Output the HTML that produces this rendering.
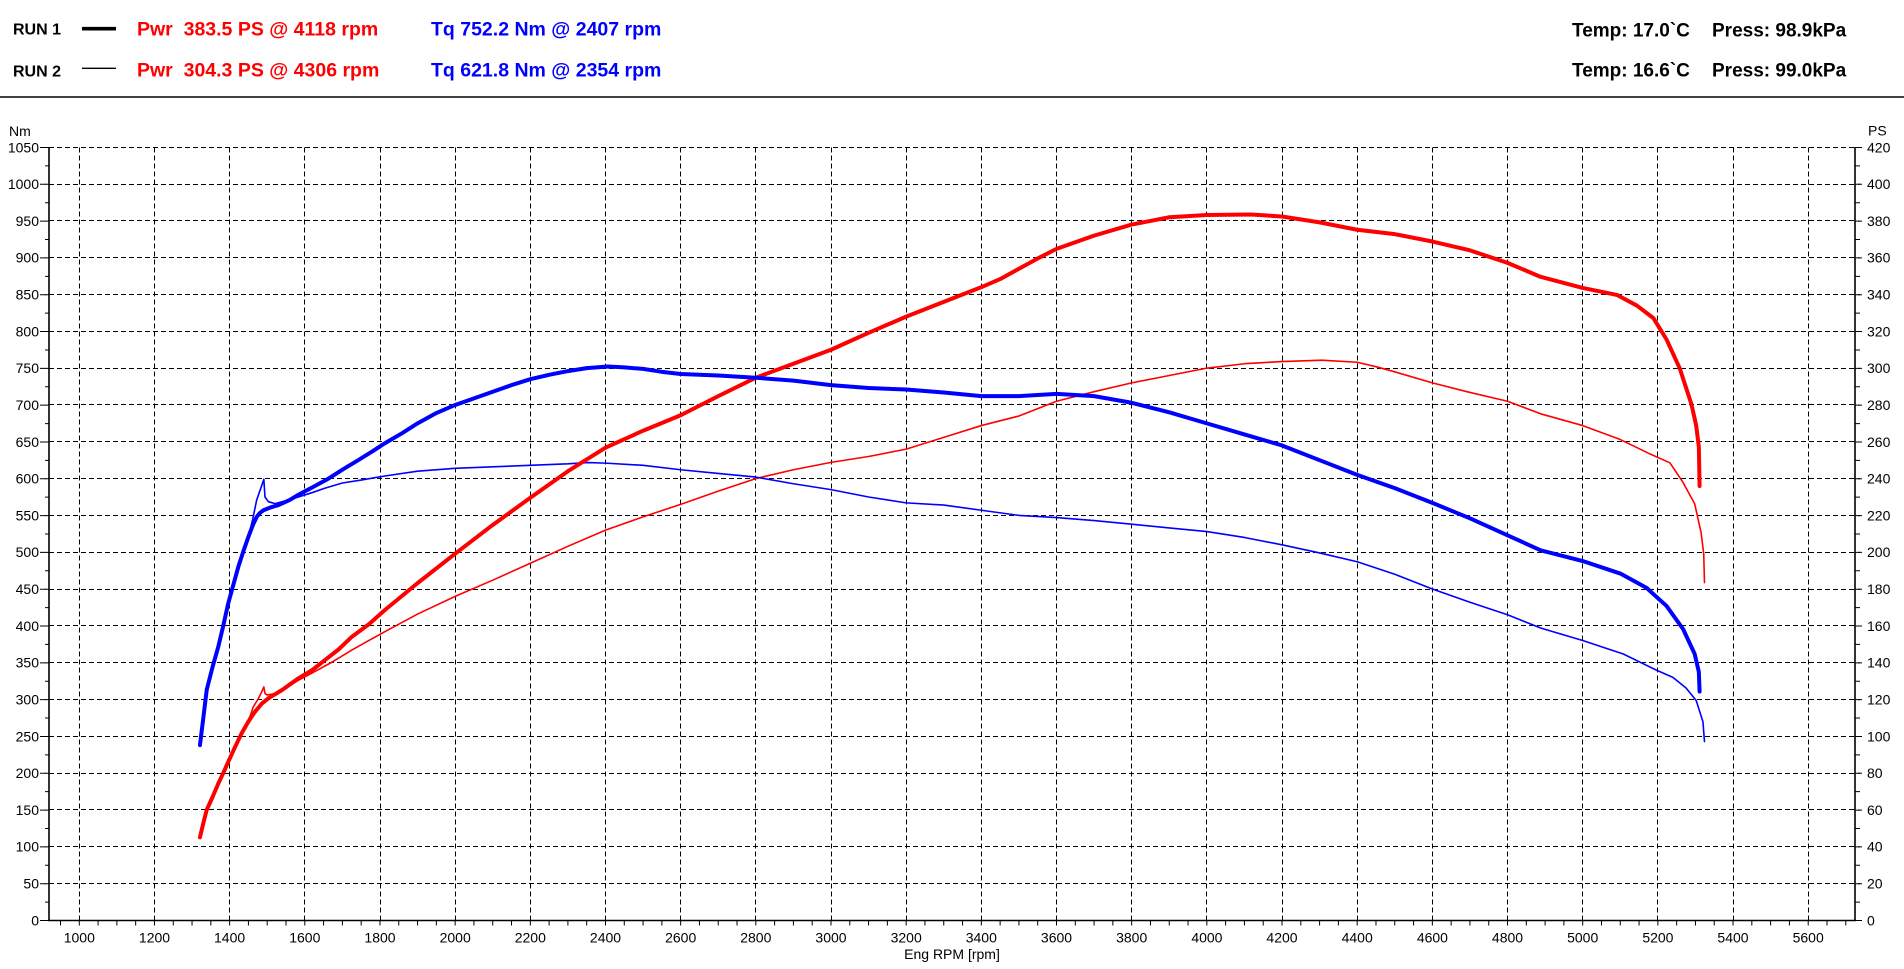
<!DOCTYPE html>
<html>
<head>
<meta charset="utf-8">
<style>
html,body{margin:0;padding:0;background:#fff;}
svg{display:block;}
text{font-family:"Liberation Sans",Arial,sans-serif;}
.hd{font-weight:bold;white-space:pre;}
.ax{font-size:14px;fill:#000;}
</style>
</head>
<body>
<svg width="1904" height="969" viewBox="0 0 1904 969" xmlns="http://www.w3.org/2000/svg">
<rect width="1904" height="969" fill="#fff"/>

<!-- Header -->
<text x="13" y="34.5" class="hd" font-size="16" fill="#000">RUN 1</text>
<line x1="82" y1="28.7" x2="116" y2="28.7" stroke="#000" stroke-width="3.7"/>
<text x="137" y="35.7" class="hd" font-size="19.5" fill="#ff0000" xml:space="preserve">Pwr  383.5 PS @ 4118 rpm</text>
<text x="431" y="35.7" class="hd" font-size="19.5" fill="#0000ff" xml:space="preserve">Tq 752.2 Nm @ 2407 rpm</text>
<text x="1572" y="36.7" class="hd" font-size="19" fill="#000">Temp: 17.0`C</text>
<text x="1712" y="36.7" class="hd" font-size="19" fill="#000">Press: 98.9kPa</text>

<text x="13" y="76.5" class="hd" font-size="16" fill="#000">RUN 2</text>
<line x1="82" y1="68.3" x2="116" y2="68.3" stroke="#000" stroke-width="1.4"/>
<text x="137" y="76.7" class="hd" font-size="19.5" fill="#ff0000" xml:space="preserve">Pwr  304.3 PS @ 4306 rpm</text>
<text x="431" y="76.7" class="hd" font-size="19.5" fill="#0000ff" xml:space="preserve">Tq 621.8 Nm @ 2354 rpm</text>
<text x="1572" y="76.7" class="hd" font-size="19" fill="#000">Temp: 16.6`C</text>
<text x="1712" y="76.7" class="hd" font-size="19" fill="#000">Press: 99.0kPa</text>

<line x1="0" y1="97" x2="1904" y2="97" stroke="#000" stroke-width="1.6"/>

<!-- Axis titles -->
<text x="9" y="136" class="ax" font-size="14">Nm</text>
<text x="1868" y="135.5" class="ax" font-size="14">PS</text>
<text x="952" y="959" class="ax" font-size="14" text-anchor="middle">Eng RPM [rpm]</text>

<!-- Horizontal gridlines -->
<g stroke="#000" stroke-width="1" stroke-dasharray="5 3" fill="none">
<line x1="49" y1="883.5" x2="1855" y2="883.5"/>
<line x1="49" y1="846.5" x2="1855" y2="846.5"/>
<line x1="49" y1="809.5" x2="1855" y2="809.5"/>
<line x1="49" y1="773.5" x2="1855" y2="773.5"/>
<line x1="49" y1="736.5" x2="1855" y2="736.5"/>
<line x1="49" y1="699.5" x2="1855" y2="699.5"/>
<line x1="49" y1="662.5" x2="1855" y2="662.5"/>
<line x1="49" y1="625.5" x2="1855" y2="625.5"/>
<line x1="49" y1="589.5" x2="1855" y2="589.5"/>
<line x1="49" y1="552.5" x2="1855" y2="552.5"/>
<line x1="49" y1="515.5" x2="1855" y2="515.5"/>
<line x1="49" y1="478.5" x2="1855" y2="478.5"/>
<line x1="49" y1="441.5" x2="1855" y2="441.5"/>
<line x1="49" y1="404.5" x2="1855" y2="404.5"/>
<line x1="49" y1="368.5" x2="1855" y2="368.5"/>
<line x1="49" y1="331.5" x2="1855" y2="331.5"/>
<line x1="49" y1="294.5" x2="1855" y2="294.5"/>
<line x1="49" y1="257.5" x2="1855" y2="257.5"/>
<line x1="49" y1="220.5" x2="1855" y2="220.5"/>
<line x1="49" y1="184.5" x2="1855" y2="184.5"/>
<line x1="49" y1="147.5" x2="1855" y2="147.5"/>
</g>

<!-- Vertical gridlines -->
<g stroke="#000" stroke-width="1" stroke-dasharray="5 3" fill="none">
<line x1="79.5" y1="147.5" x2="79.5" y2="920"/>
<line x1="154.5" y1="147.5" x2="154.5" y2="920"/>
<line x1="229.5" y1="147.5" x2="229.5" y2="920"/>
<line x1="304.5" y1="147.5" x2="304.5" y2="920"/>
<line x1="380.5" y1="147.5" x2="380.5" y2="920"/>
<line x1="455.5" y1="147.5" x2="455.5" y2="920"/>
<line x1="530.5" y1="147.5" x2="530.5" y2="920"/>
<line x1="605.5" y1="147.5" x2="605.5" y2="920"/>
<line x1="680.5" y1="147.5" x2="680.5" y2="920"/>
<line x1="755.5" y1="147.5" x2="755.5" y2="920"/>
<line x1="831.5" y1="147.5" x2="831.5" y2="920"/>
<line x1="906.5" y1="147.5" x2="906.5" y2="920"/>
<line x1="981.5" y1="147.5" x2="981.5" y2="920"/>
<line x1="1056.5" y1="147.5" x2="1056.5" y2="920"/>
<line x1="1131.5" y1="147.5" x2="1131.5" y2="920"/>
<line x1="1206.5" y1="147.5" x2="1206.5" y2="920"/>
<line x1="1282.5" y1="147.5" x2="1282.5" y2="920"/>
<line x1="1357.5" y1="147.5" x2="1357.5" y2="920"/>
<line x1="1432.5" y1="147.5" x2="1432.5" y2="920"/>
<line x1="1507.5" y1="147.5" x2="1507.5" y2="920"/>
<line x1="1582.5" y1="147.5" x2="1582.5" y2="920"/>
<line x1="1657.5" y1="147.5" x2="1657.5" y2="920"/>
<line x1="1733.5" y1="147.5" x2="1733.5" y2="920"/>
<line x1="1808.5" y1="147.5" x2="1808.5" y2="920"/>
</g>

<!-- Axes -->
<g stroke="#000" fill="none">
<line x1="49" y1="147" x2="49" y2="921" stroke-width="1.6"/>
<line x1="1855" y1="147" x2="1855" y2="921" stroke-width="1.6"/>
<line x1="48" y1="920.5" x2="1856" y2="920.5" stroke-width="1.6"/>
<!-- left ticks -->
<line x1="47" y1="921" x2="47" y2="146" stroke-width="4" stroke-dasharray="1 17.405"/>
<line x1="43" y1="921" x2="43" y2="146" stroke-width="6" stroke-dasharray="1 35.81"/>
<!-- right ticks -->
<line x1="1857.5" y1="921" x2="1857.5" y2="146" stroke-width="5" stroke-dasharray="1 17.405"/>
<line x1="1860" y1="921" x2="1860" y2="146" stroke-width="4" stroke-dasharray="1 35.81"/>
<!-- bottom ticks -->
<line x1="60" y1="923" x2="1856" y2="923" stroke-width="5" stroke-dasharray="1 17.7925"/>
</g>

<!-- Left labels -->
<g class="ax" text-anchor="end">
<text x="39" y="925.3">0</text>
<text x="39" y="888.5">50</text>
<text x="39" y="851.7">100</text>
<text x="39" y="814.9">150</text>
<text x="39" y="778.1">200</text>
<text x="39" y="741.3">250</text>
<text x="39" y="704.4">300</text>
<text x="39" y="667.6">350</text>
<text x="39" y="630.8">400</text>
<text x="39" y="594.0">450</text>
<text x="39" y="557.2">500</text>
<text x="39" y="520.4">550</text>
<text x="39" y="483.6">600</text>
<text x="39" y="446.8">650</text>
<text x="39" y="410.0">700</text>
<text x="39" y="373.2">750</text>
<text x="39" y="336.3">800</text>
<text x="39" y="299.5">850</text>
<text x="39" y="262.7">900</text>
<text x="39" y="225.9">950</text>
<text x="39" y="189.1">1000</text>
<text x="39" y="152.3">1050</text>
</g>

<!-- Right labels -->
<g class="ax">
<text x="1867" y="925.3">0</text>
<text x="1867" y="888.5">20</text>
<text x="1867" y="851.7">40</text>
<text x="1867" y="814.9">60</text>
<text x="1867" y="778.1">80</text>
<text x="1867" y="741.3">100</text>
<text x="1867" y="704.4">120</text>
<text x="1867" y="667.6">140</text>
<text x="1867" y="630.8">160</text>
<text x="1867" y="594.0">180</text>
<text x="1867" y="557.2">200</text>
<text x="1867" y="520.4">220</text>
<text x="1867" y="483.6">240</text>
<text x="1867" y="446.8">260</text>
<text x="1867" y="410.0">280</text>
<text x="1867" y="373.2">300</text>
<text x="1867" y="336.3">320</text>
<text x="1867" y="299.5">340</text>
<text x="1867" y="262.7">360</text>
<text x="1867" y="225.9">380</text>
<text x="1867" y="189.1">400</text>
<text x="1867" y="152.3">420</text>
</g>

<!-- Bottom labels -->
<g class="ax" text-anchor="middle">
<text x="79.3" y="942.5">1000</text>
<text x="154.5" y="942.5">1200</text>
<text x="229.6" y="942.5">1400</text>
<text x="304.8" y="942.5">1600</text>
<text x="380.0" y="942.5">1800</text>
<text x="455.2" y="942.5">2000</text>
<text x="530.3" y="942.5">2200</text>
<text x="605.5" y="942.5">2400</text>
<text x="680.7" y="942.5">2600</text>
<text x="755.8" y="942.5">2800</text>
<text x="831.0" y="942.5">3000</text>
<text x="906.2" y="942.5">3200</text>
<text x="981.3" y="942.5">3400</text>
<text x="1056.5" y="942.5">3600</text>
<text x="1131.7" y="942.5">3800</text>
<text x="1206.9" y="942.5">4000</text>
<text x="1282.0" y="942.5">4200</text>
<text x="1357.2" y="942.5">4400</text>
<text x="1432.4" y="942.5">4600</text>
<text x="1507.5" y="942.5">4800</text>
<text x="1582.7" y="942.5">5000</text>
<text x="1657.9" y="942.5">5200</text>
<text x="1733.0" y="942.5">5400</text>
<text x="1808.2" y="942.5">5600</text>
</g>

<!-- Curves in data coords: x=rpm, y=Nm(-equivalent) -->
<g transform="matrix(0.37585 0 0 -0.7362 -296.55 920.3)" fill="none" stroke-linejoin="round" stroke-linecap="round">
<!-- Run2 power (thin red) -->
<polyline vector-effect="non-scaling-stroke" stroke="#ff0000" stroke-width="1.6" points="1321,112.7 1339,150 1370,186 1396,215 1432,254 1455,278 1463,290 1475,300 1485,310 1491,317 1494,308 1500,306 1521,308 1547,315 1583,326 1618,335.5 1670,350 1725,367 1770,380 1813,392 1900,416 2000,440 2100,462 2200,485 2300,508 2400,530 2500,548 2600,565 2700,583 2800,600 2900,612 3000,622 3100,630 3200,640 3300,656 3400,672 3500,685 3600,705 3700,718 3800,730 3900,740 4000,750 4100,756 4200,759 4306,760.75 4400,758 4450,752 4500,745 4600,730 4700,717 4800,705 4888,688 5000,672 5100,653 5179,633.5 5232,621.4 5267,594.7 5298,565.6 5315,526.7 5322,497.6 5324,458.8"/>
<!-- Run2 torque (thin blue) -->
<polyline vector-effect="non-scaling-stroke" stroke="#0000ff" stroke-width="1.6" points="1321,238 1339,313 1370,372 1396,430 1423,480 1450,521 1461,544 1472,571 1485,590 1491,599 1494,575 1503,568.6 1521,566 1550,570 1583,575 1620,581 1654,587 1700,594 1750,598 1813,603.5 1900,610 2000,614 2100,616 2200,618 2300,620 2354,621.8 2400,621 2500,618 2600,612 2700,607 2800,602 2900,593 3000,585 3100,575 3200,567 3300,564 3400,557 3500,550 3600,547 3700,543 3800,538 3900,533 4000,528 4100,520 4200,510 4300,499 4400,487 4500,470 4600,450 4700,432 4800,415 4888,397 5000,380 5108,361.7 5196,339.8 5240,330 5275,315.6 5302,298.6 5320,269.5 5324,242.8"/>
<!-- Run1 power (thick red) -->
<polyline vector-effect="non-scaling-stroke" stroke="#ff0000" stroke-width="4" points="1321,112.7 1330,132 1339,150 1355,168 1370,186 1383,200 1396,215 1414,235 1432,254 1450,270 1467,283 1485,294 1503,301.5 1540,313 1583,328.7 1620,340 1654,353.6 1690,368 1725,385 1770,402 1813,421.5 1900,458 2000,498 2100,537 2200,574 2300,610 2400,642 2500,665 2600,686 2700,712 2800,737 2900,756 3000,775 3100,798 3200,820 3300,840 3400,860 3450,871 3500,885 3550,899 3600,912 3700,930 3800,945 3900,955 4000,958 4118,958.75 4200,956 4300,948 4400,938 4500,932 4600,922 4700,910 4800,893 4888,874 5000,859 5091,849.5 5144,835 5188,818 5223,789 5258,750 5289,701.5 5302,672 5309,643 5311,590"/>
<!-- Run1 torque (thick blue) -->
<polyline vector-effect="non-scaling-stroke" stroke="#0000ff" stroke-width="4" points="1321,238 1330,275 1339,313 1355,345 1370,372 1383,400 1396,430 1410,456 1423,480 1437,502 1450,521 1462,537 1472,548 1480,553 1490,557 1510,561 1530,564 1560,571 1583,578 1620,588 1663,600 1700,612 1742,625 1780,637 1813,648 1860,662 1900,675 1950,689 2000,700 2050,709 2100,718 2150,727 2200,735 2250,741 2300,746 2350,750 2407,752.2 2450,751 2500,749 2550,745 2600,742 2700,740 2800,737 2900,733 3000,727 3100,723 3200,721 3300,717 3400,712 3500,712 3600,715 3700,712 3800,703 3900,690 4000,675 4100,660 4200,645 4300,625 4400,605 4500,587 4600,567 4700,546 4800,523 4888,502.5 5000,488 5100,471 5170,451.5 5223,427 5267,395.7 5298,361.7 5309,337.4 5311,310.7"/>
</g>
</svg>
</body>
</html>
